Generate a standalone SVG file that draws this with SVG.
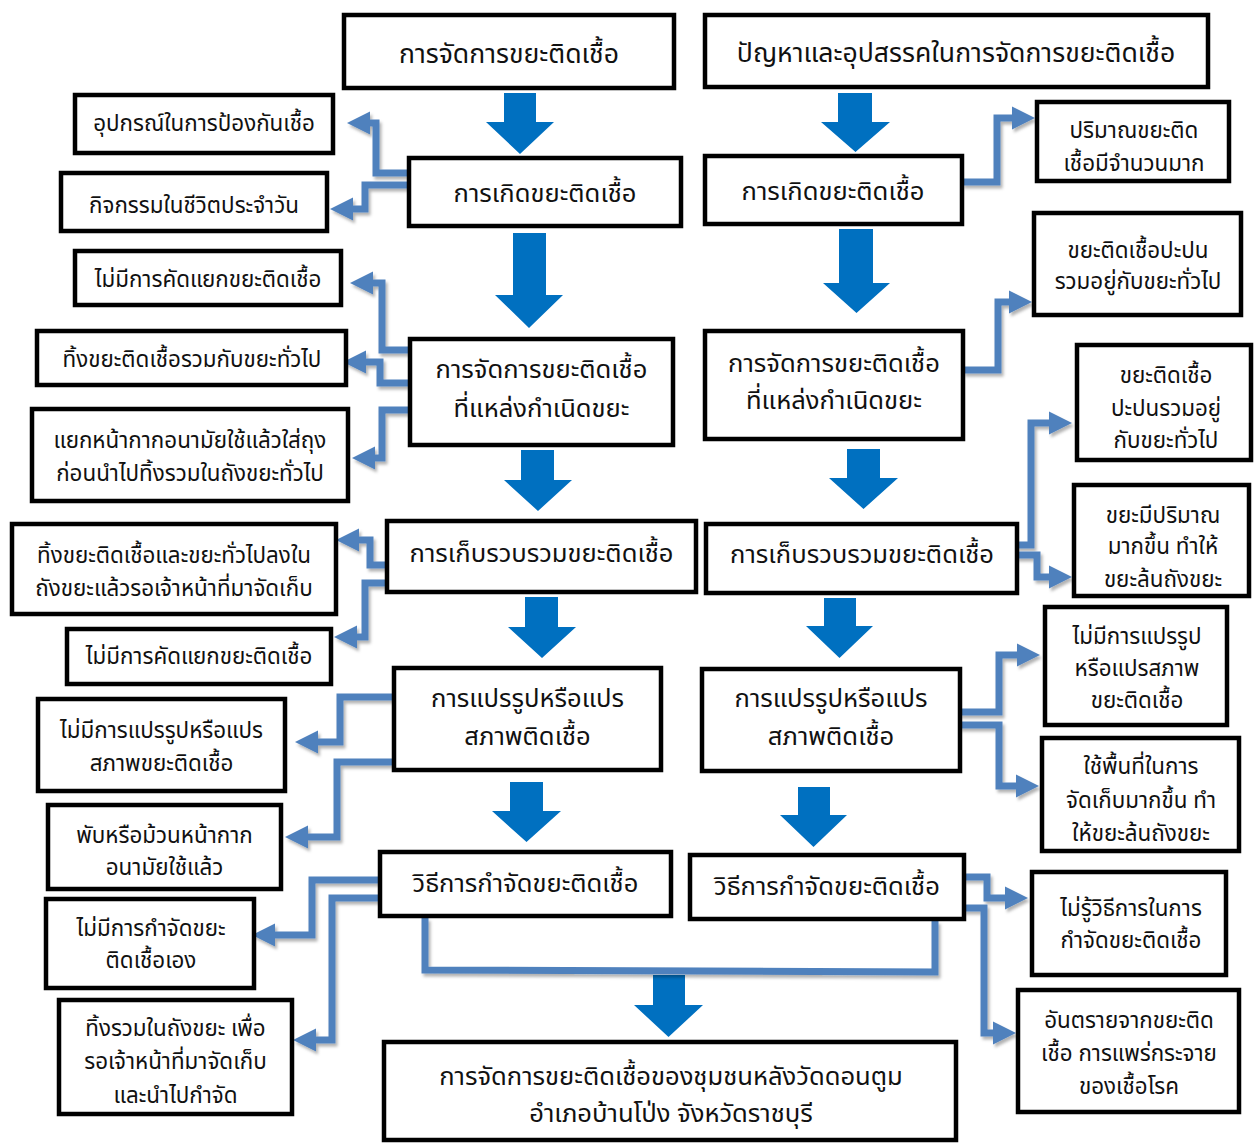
<svg xmlns="http://www.w3.org/2000/svg" width="1258" height="1144" viewBox="0 0 1258 1144">
<style>
.box{fill:#fff;stroke:#000;stroke-width:4.5}
.t{font-family:"Noto Sans Thai","Tahoma","Noto Sans","DejaVu Sans",sans-serif;fill:#111;text-anchor:middle}
.ttl{font-size:26.6px}
.big{font-size:25.6px}
.sm{font-size:22.4px}
.con{fill:none;stroke:#4F81BD;stroke-width:7;stroke-linejoin:miter}
.blk{fill:#0070C0}
</style>
<defs>
<marker id="ah" markerUnits="userSpaceOnUse" markerWidth="24" markerHeight="24" refX="0" refY="11.5" orient="auto" viewBox="0 0 24 23">
<path d="M0,0 L23,11.5 L0,23 z" fill="#4F81BD"/>
</marker>
<filter id="sh" x="-10%" y="-10%" width="130%" height="130%">
<feDropShadow dx="2" dy="3" stdDeviation="1.5" flood-color="#000" flood-opacity="0.3"/>
</filter>
</defs>

<g id="connectors">
<g id="flow-arrows">
<path class="blk" d="M504,93 H536 V122 H554 L520,154 L486,122 H504 Z"/>
<path class="blk" d="M513,233 H546 V295 H563 L529,328 L495,295 H513 Z"/>
<path class="blk" d="M521,450 H554 V480 H572 L538,511 L504,480 H521 Z"/>
<path class="blk" d="M525,597 H558 V627 H576 L542,658 L508,627 H525 Z"/>
<path class="blk" d="M510,782 H543 V811 H561 L526.5,842 L492,811 H510 Z"/>
<path class="blk" d="M653,975 H685 V1005 H703 L668.5,1037 L634,1005 H653 Z"/>
<path class="blk" d="M838,93 H872 V122 H890 L855.5,152 L821,122 H838 Z"/>
<path class="blk" d="M839,229 H873 V283 H890 L856.5,313 L823,283 H839 Z"/>
<path class="blk" d="M847,449 H880 V478 H898 L863.5,509 L829,478 H847 Z"/>
<path class="blk" d="M824,598 H856 V626 H873 L839.5,658 L806,626 H824 Z"/>
<path class="blk" d="M798,787 H830 V815 H847 L813.5,847 L780,815 H798 Z"/>
</g>
<g id="side-links" filter="url(#sh)">
<path class="con" marker-end="url(#ah)" d="M407,173 H376 V123 H370"/>
<path class="con" marker-end="url(#ah)" d="M407,185 H365 V209 H353"/>
<path class="con" marker-end="url(#ah)" d="M408,350 H382 V283 H373"/>
<path class="con" marker-end="url(#ah)" d="M408,383 H380 V362 H366"/>
<path class="con" marker-end="url(#ah)" d="M408,410 H382 V458 H375"/>
<path class="con" marker-end="url(#ah)" d="M386,565 H370 V540 H359"/>
<path class="con" marker-end="url(#ah)" d="M386,583 H365 V637 H357"/>
<path class="con" marker-end="url(#ah)" d="M393,697 H340 V742 H318"/>
<path class="con" marker-end="url(#ah)" d="M393,762 H337 V837 H308"/>
<path class="con" marker-end="url(#ah)" d="M379,880 H312 V935 H275"/>
<path class="con" marker-end="url(#ah)" d="M379,898 H332 V1040 H316"/>
<path class="con" marker-end="url(#ah)" d="M962,182 H997 V118 H1012"/>
<path class="con" marker-end="url(#ah)" d="M963,370 H998 V302 H1009"/>
<path class="con" marker-end="url(#ah)" d="M1016,545 H1031 V423 H1049"/>
<path class="con" marker-end="url(#ah)" d="M1016,555 H1037 V577 H1049"/>
<path class="con" marker-end="url(#ah)" d="M959,712 H999 V655 H1017"/>
<path class="con" marker-end="url(#ah)" d="M959,725 H999 V786 H1016"/>
<path class="con" marker-end="url(#ah)" d="M963,877 H987 V898 H1005"/>
<path class="con" marker-end="url(#ah)" d="M963,908 H984 V1033 H993"/>
<path class="con" d="M425,918 V970 L935,972 V921"/>
</g>
</g>

<g id="T1"><rect class="box" x="344" y="15" width="330" height="73"/><text class="t ttl" x="509" y="63">การจัดการขยะติดเชื้อ</text></g>
<g id="T2"><rect class="box" x="705" y="15" width="503" height="72"/><text class="t ttl" x="956" y="62">ปัญหาและอุปสรรคในการจัดการขยะติดเชื้อ</text></g>

<g id="L1"><rect class="box" x="409" y="158" width="272" height="68"/><text class="t big" x="545" y="202">การเกิดขยะติดเชื้อ</text></g>
<g id="L2"><rect class="box" x="410" y="339" width="263" height="106"/><text class="t big" x="541.5" y="378">การจัดการขยะติดเชื้อ</text><text class="t big" x="541.5" y="417">ที่แหล่งกำเนิดขยะ</text></g>
<g id="L3"><rect class="box" x="387" y="521" width="309" height="71"/><text class="t big" x="541.5" y="562">การเก็บรวบรวมขยะติดเชื้อ</text></g>
<g id="L4"><rect class="box" x="394" y="668" width="267" height="102"/><text class="t big" x="527.5" y="707">การแปรรูปหรือแปร</text><text class="t big" x="527.5" y="745">สภาพติดเชื้อ</text></g>
<g id="L5"><rect class="box" x="380" y="852" width="291" height="64"/><text class="t big" x="525.5" y="892">วิธีการกำจัดขยะติดเชื้อ</text></g>
<g id="F"><rect class="box" x="384" y="1042" width="572" height="98"/><text class="t big" x="671" y="1085">การจัดการขยะติดเชื้อของชุมชนหลังวัดดอนตูม</text><text class="t big" x="671" y="1122">อำเภอบ้านโป่ง จังหวัดราชบุรี</text></g>

<g id="R1"><rect class="box" x="705" y="156" width="257" height="68"/><text class="t big" x="833" y="200">การเกิดขยะติดเชื้อ</text></g>
<g id="R2"><rect class="box" x="705" y="331" width="258" height="108"/><text class="t big" x="834" y="372">การจัดการขยะติดเชื้อ</text><text class="t big" x="834" y="409">ที่แหล่งกำเนิดขยะ</text></g>
<g id="R3"><rect class="box" x="706" y="524" width="311" height="69"/><text class="t big" x="862" y="563">การเก็บรวบรวมขยะติดเชื้อ</text></g>
<g id="R4"><rect class="box" x="702" y="669" width="258" height="102"/><text class="t big" x="831" y="707">การแปรรูปหรือแปร</text><text class="t big" x="831" y="745">สภาพติดเชื้อ</text></g>
<g id="R5"><rect class="box" x="690" y="855" width="274" height="64"/><text class="t big" x="827" y="895">วิธีการกำจัดขยะติดเชื้อ</text></g>

<g id="A1"><rect class="box" x="75" y="95" width="258" height="58"/><text class="t sm" x="204" y="131">อุปกรณ์ในการป้องกันเชื้อ</text></g>
<g id="A2"><rect class="box" x="61" y="173" width="266" height="58"/><text class="t sm" x="194" y="213">กิจกรรมในชีวิตประจำวัน</text></g>
<g id="A3"><rect class="box" x="75" y="251" width="266" height="54"/><text class="t sm" x="208" y="287">ไม่มีการคัดแยกขยะติดเชื้อ</text></g>
<g id="A4"><rect class="box" x="37" y="331" width="309" height="54"/><text class="t sm" x="192" y="367">ทิ้งขยะติดเชื้อรวมกับขยะทั่วไป</text></g>
<g id="A5"><rect class="box" x="32" y="409" width="316" height="92"/><text class="t sm" x="190" y="448">แยกหน้ากากอนามัยใช้แล้วใส่ถุง</text><text class="t sm" x="190" y="481">ก่อนนำไปทิ้งรวมในถังขยะทั่วไป</text></g>
<g id="A6"><rect class="box" x="12" y="524" width="324" height="90"/><text class="t sm" x="174" y="563">ทิ้งขยะติดเชื้อและขยะทั่วไปลงใน</text><text class="t sm" x="174" y="596">ถังขยะแล้วรอเจ้าหน้าที่มาจัดเก็บ</text></g>
<g id="A7"><rect class="box" x="67" y="629" width="264" height="55"/><text class="t sm" x="199" y="664">ไม่มีการคัดแยกขยะติดเชื้อ</text></g>
<g id="A8"><rect class="box" x="38" y="699" width="247" height="92"/><text class="t sm" x="161.5" y="738">ไม่มีการแปรรูปหรือแปร</text><text class="t sm" x="161.5" y="771">สภาพขยะติดเชื้อ</text></g>
<g id="A9"><rect class="box" x="48" y="805" width="233" height="84"/><text class="t sm" x="164.5" y="843">พับหรือม้วนหน้ากาก</text><text class="t sm" x="164.5" y="875">อนามัยใช้แล้ว</text></g>
<g id="A10"><rect class="box" x="46" y="899" width="208" height="89"/><text class="t sm" x="151" y="936">ไม่มีการกำจัดขยะ</text><text class="t sm" x="151" y="968">ติดเชื้อเอง</text></g>
<g id="A11"><rect class="box" x="59" y="1000" width="233" height="114"/><text class="t sm" x="175.5" y="1036">ทิ้งรวมในถังขยะ เพื่อ</text><text class="t sm" x="175.5" y="1069">รอเจ้าหน้าที่มาจัดเก็บ</text><text class="t sm" x="175.5" y="1103">และนำไปกำจัด</text></g>

<g id="B1"><rect class="box" x="1037" y="102" width="192" height="79"/><text class="t sm" x="1134" y="138">ปริมาณขยะติด</text><text class="t sm" x="1134" y="171">เชื้อมีจำนวนมาก</text></g>
<g id="B2"><rect class="box" x="1034" y="213" width="207" height="102"/><text class="t sm" x="1138" y="258">ขยะติดเชื้อปะปน</text><text class="t sm" x="1138" y="289">รวมอยู่กับขยะทั่วไป</text></g>
<g id="B3"><rect class="box" x="1077" y="345" width="174" height="115"/><text class="t sm" x="1166" y="383">ขยะติดเชื้อ</text><text class="t sm" x="1166" y="416">ปะปนรวมอยู่</text><text class="t sm" x="1166" y="448">กับขยะทั่วไป</text></g>
<g id="B4"><rect class="box" x="1074" y="485" width="175" height="111"/><text class="t sm" x="1163" y="523">ขยะมีปริมาณ</text><text class="t sm" x="1163" y="554">มากขึ้น ทำให้</text><text class="t sm" x="1163" y="587">ขยะล้นถังขยะ</text></g>
<g id="B5"><rect class="box" x="1045" y="607" width="182" height="118"/><text class="t sm" x="1137" y="644">ไม่มีการแปรรูป</text><text class="t sm" x="1137" y="676">หรือแปรสภาพ</text><text class="t sm" x="1137" y="708">ขยะติดเชื้อ</text></g>
<g id="B6"><rect class="box" x="1042" y="738" width="197" height="113"/><text class="t sm" x="1141" y="774">ใช้พื้นที่ในการ</text><text class="t sm" x="1141" y="808">จัดเก็บมากขึ้น ทำ</text><text class="t sm" x="1141" y="841">ให้ขยะล้นถังขยะ</text></g>
<g id="B7"><rect class="box" x="1032" y="872" width="194" height="103"/><text class="t sm" x="1131" y="916">ไม่รู้วิธีการในการ</text><text class="t sm" x="1131" y="948">กำจัดขยะติดเชื้อ</text></g>
<g id="B8"><rect class="box" x="1018" y="990" width="221" height="122"/><text class="t sm" x="1129" y="1028">อันตรายจากขยะติด</text><text class="t sm" x="1129" y="1061">เชื้อ การแพร่กระจาย</text><text class="t sm" x="1129" y="1094">ของเชื้อโรค</text></g>
</svg>
